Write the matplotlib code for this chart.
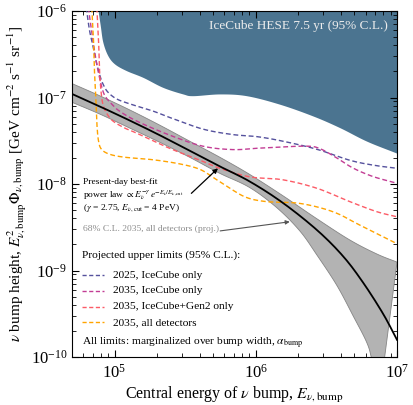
import numpy as np
import matplotlib
matplotlib.use("Agg")
import matplotlib.pyplot as plt
from matplotlib.ticker import LogLocator, NullFormatter
from matplotlib.patches import FancyArrowPatch

plt.rcParams['font.family'] = ['Liberation Serif', 'DejaVu Serif']
plt.rcParams['mathtext.fontset'] = 'stix'

# --- IceCube HESE 7.5 yr excluded region (lower boundary) ---
hese_E = [7.45e4, 7.92e4, 8.26e4, 8.95e4, 1.0e5, 1.21e5, 1.59e5, 2.20e5, 3.05e5,
          3.59e5, 5.56e5, 8.59e5, 1.47e6, 2.54e6, 3.94e6, 6.10e6, 1.0e7]
hese_phi = [1.35e-6, 6.87e-7, 4.39e-7, 3.07e-7, 2.45e-7, 2.05e-7, 1.71e-7, 1.31e-7, 1.10e-7,
            1.05e-7, 1.10e-7, 1.05e-7, 8.39e-8, 6.12e-8, 4.48e-8, 3.13e-8, 2.27e-8]

# --- projected upper limits (95% C.L.) ---
ic2025_E = [6.22e4, 6.36e4, 6.65e4, 7.02e4, 7.33e4, 7.63e4, 7.96e4, 8.26e4, 8.91e4, 1.03e5,
            1.28e5, 1.86e5, 2.45e5, 4.21e5, 6.87e5, 1.02e6, 1.55e6, 2.71e6, 4.64e6, 6.98e6, 1.0e7]
ic2025_phi = [1.34e-6, 1.0e-6, 6.0e-7, 4.01e-7, 2.83e-7, 2.16e-7, 1.70e-7, 1.45e-7, 1.17e-7, 9.67e-8,
              8.45e-8, 7.0e-8, 5.89e-8, 4.32e-8, 3.73e-8, 3.53e-8, 3.13e-8, 2.52e-8, 1.88e-8, 1.64e-8, 1.52e-8]

ic2035_E = [6.44e4, 6.58e4, 6.87e4, 7.21e4, 7.52e4, 7.83e4, 8.26e4, 8.73e4, 9.68e4, 1.08e5, 1.43e5,
            2.45e5, 4.21e5, 6.87e5, 1.02e6, 1.48e6, 2.30e6, 2.84e6, 3.75e6, 4.88e6, 6.76e6, 1.0e7]
ic2035_phi = [1.34e-6, 1.0e-6, 6.0e-7, 3.51e-7, 2.34e-7, 1.70e-7, 1.20e-7, 9.93e-8, 8.22e-8, 7.0e-8, 5.36e-8,
              3.68e-8, 2.74e-8, 2.50e-8, 2.59e-8, 2.67e-8, 2.74e-8, 2.57e-8, 2.0e-8, 1.53e-8, 1.22e-8, 1.02e-8]

gen2_E = [7.45e4, 7.52e4, 7.71e4, 7.83e4, 8.02e4, 8.26e4, 8.77e4, 9.73e4, 1.18e5, 1.43e5,
          2.45e5, 4.21e5, 5.56e5, 9.06e5, 1.55e6, 2.71e6, 4.64e6, 7.21e6, 1.0e7]
gen2_phi = [1.34e-6, 1.0e-6, 4.59e-7, 2.05e-7, 1.20e-7, 8.45e-8, 6.64e-8, 5.36e-8, 4.44e-8, 3.88e-8,
            2.59e-8, 1.83e-8, 1.52e-8, 1.21e-8, 1.12e-8, 8.93e-9, 6.25e-9, 4.78e-9, 4.18e-9]

alldet_E = [6.87e4, 6.92e4, 7.10e4, 7.21e4, 7.39e4, 7.52e4, 7.71e4, 8.09e4, 9.22e4, 1.18e5, 1.86e5,
            2.89e5, 4.01e5, 5.12e5, 6.55e5, 8.63e5, 1.20e6, 2.05e6, 3.52e6, 5.47e6, 1.0e7]
alldet_phi = [1.34e-6, 1.0e-6, 4.59e-7, 2.05e-7, 9.16e-8, 4.69e-8, 3.13e-8, 2.52e-8, 2.21e-8, 2.04e-8, 1.91e-8,
              1.71e-8, 1.48e-8, 1.16e-8, 8.93e-9, 6.97e-9, 6.25e-9, 5.97e-9, 4.78e-9, 3.34e-9, 2.04e-9]

# --- present-day best-fit power law and 68% C.L. band (2035, all detectors) ---
fit_E = [5.0e4, 7.83e4, 1.28e5, 2.08e5, 3.40e5, 5.56e5, 9.06e5, 1.55e6, 2.71e6, 4.14e6, 5.74e6, 7.96e6, 1.0e7]
fit_phi = [1.10e-7, 7.91e-8, 5.43e-8, 3.68e-8, 2.43e-8, 1.60e-8, 1.07e-8, 6.08e-9, 2.94e-9, 1.47e-9,
           7.29e-10, 3.17e-10, 1.58e-10]

band_hi_E = [5.0e4, 7.83e4, 1.28e5, 2.08e5, 3.40e5, 5.56e5, 9.06e5, 1.55e6, 2.71e6, 4.64e6, 7.21e6, 1.0e7]
band_hi_phi = [1.45e-7, 1.05e-7, 7.19e-8, 4.81e-8, 3.13e-8, 2.04e-8, 1.29e-8, 7.35e-9, 3.96e-9, 2.25e-9,
               1.55e-9, 1.25e-9]
band_lo_E = [5.0e4, 7.83e4, 1.28e5, 2.08e5, 3.40e5, 5.56e5, 9.06e5, 1.41e6, 2.05e6, 2.71e6, 3.75e6,
             4.88e6, 6.12e6, 6.65e6, 7.57e6]
band_lo_phi = [8.81e-8, 6.46e-8, 4.44e-8, 3.05e-8, 2.04e-8, 1.33e-8, 9.10e-9, 5.32e-9, 2.87e-9, 1.51e-9,
               6.73e-10, 3.01e-10, 1.46e-10, 9.2e-11, 3.8e-11]

limit_labels = ['2025, IceCube only', '2035, IceCube only', '2035, IceCube+Gen2 only', '2035, all detectors']
limit_colors = ['#55519d', '#c23d94', '#fc5b66', '#ffa400']


def smooth(E, phi, n=12):
    """Catmull-Rom through the read points, done in log-log space (drawing only)."""
    p = np.column_stack([np.log10(E), np.log10(phi)])
    p = np.vstack([2 * p[0] - p[1], p, 2 * p[-1] - p[-2]])
    out = []
    for i in range(1, len(p) - 2):
        p0, p1, p2, p3 = p[i - 1], p[i], p[i + 1], p[i + 2]
        t = np.linspace(0, 1, n, endpoint=False)[:, None]
        seg = 0.5 * ((2 * p1) + (-p0 + p2) * t + (2 * p0 - 5 * p1 + 4 * p2 - p3) * t ** 2
                     + (-p0 + 3 * p1 - 3 * p2 + p3) * t ** 3)
        out.append(seg)
    out.append(p[-2][None, :])
    out = np.vstack(out)
    return 10 ** out[:, 0], 10 ** out[:, 1]


fig = plt.figure(figsize=(4.13, 4.05), dpi=100)
ax = fig.add_axes([0.1743, 0.1185, 0.787, 0.8543])

# excluded region
hx, hy = smooth(hese_E, hese_phi)
ax.fill_between(hx, hy, 1e-5, color='#4b7490', lw=0, zorder=1)

# 68% band + best fit
ux, uy = smooth(band_hi_E, band_hi_phi)
lx, ly = smooth(band_lo_E, band_lo_phi)
ax.fill(np.concatenate([ux, lx[::-1]]), np.concatenate([uy, ly[::-1]]),
        facecolor='#b3b3b3', edgecolor='#858585', lw=0.6, zorder=2)
fx, fy = smooth(fit_E, fit_phi)
ax.plot(fx, fy, color='black', lw=1.3, zorder=4)

# projected limits
curves = [(ic2025_E, ic2025_phi), (ic2035_E, ic2035_phi), (gen2_E, gen2_phi), (alldet_E, alldet_phi)]
for (E, phi), c in zip(curves, limit_colors):
    sx, sy = smooth(E, phi)
    ax.plot(sx, sy, color=c, lw=1.0, dashes=(3.5, 2.0), zorder=3)

ax.set_xscale('log')
ax.set_yscale('log')
ax.set_xlim(5e4, 1e7)
ax.set_ylim(1e-10, 1e-6)

ax.xaxis.set_minor_locator(LogLocator(base=10, subs=np.arange(2, 10)))
ax.yaxis.set_minor_locator(LogLocator(base=10, subs=np.arange(2, 10)))
ax.xaxis.set_minor_formatter(NullFormatter())
ax.yaxis.set_minor_formatter(NullFormatter())
ax.tick_params(which='both', direction='in', top=True, right=True, labelsize=12)
ax.tick_params(which='major', length=5, width=0.8)
ax.tick_params(which='minor', length=3, width=0.6, labelbottom=False, labelleft=False)
ax.tick_params(axis='x', pad=5)

ax.set_xlabel(r'Central energy of $\nu$ bump, $E_{\nu,\mathrm{bump}}$', fontsize=11.5, labelpad=2)
ax.set_ylabel(r'$\nu$ bump height, $E^2_{\nu,\mathrm{bump}}\Phi_{\nu,\mathrm{bump}}$ '
              r'[GeV cm$^{-2}$ s$^{-1}$ sr$^{-1}$]', fontsize=11, labelpad=1)

ax.text(0.972, 0.957, 'IceCube HESE 7.5 yr (95% C.L.)', transform=ax.transAxes,
        ha='right', va='center', fontsize=9.5, color='#ececec', zorder=5)

# best-fit annotation
ax.text(0.034, 0.507, 'Present-day best-fit', transform=ax.transAxes, ha='left', va='center', fontsize=6.8)
ax.text(0.034, 0.468, r'power law $\propto E_\nu^{-\gamma}\, e^{-E_\nu/E_{\nu,\mathrm{cut}}}$',
        transform=ax.transAxes, ha='left', va='center', fontsize=6.8)
ax.text(0.034, 0.430, r'($\gamma$ = 2.75, $E_{\nu,\mathrm{cut}}$ = 4 PeV)', transform=ax.transAxes,
        ha='left', va='center', fontsize=6.8)
ax.add_patch(FancyArrowPatch((3.5e5, 7.8e-9), (5.4e5, 1.52e-8), arrowstyle='-|>', color='black',
                             lw=0.9, mutation_scale=7, shrinkA=0, shrinkB=0, zorder=6))

ax.text(0.034, 0.369, '68% C.L. 2035, all detectors (proj.)', transform=ax.transAxes,
        ha='left', va='center', fontsize=6.8, color='#8c8c8c')
ax.add_patch(FancyArrowPatch((5.6e5, 2.87e-9), (1.74e6, 3.66e-9), arrowstyle='-|>', color='#555555',
                             lw=0.8, mutation_scale=6, shrinkA=0, shrinkB=0, zorder=6))

# hand-made legend
ax.text(0.03, 0.295, 'Projected upper limits (95% C.L.):', transform=ax.transAxes,
        ha='left', va='center', fontsize=8.2)
for i, (lab, c) in enumerate(zip(limit_labels, limit_colors)):
    yy = 0.237 - i * 0.0457
    ax.plot([0.03, 0.097], [yy, yy], transform=ax.transAxes, color=c, lw=1.0, dashes=(3.0, 1.8))
    ax.text(0.127, yy, lab, transform=ax.transAxes, ha='left', va='center', fontsize=8.2)

ax.text(0.03, 0.040, r'All limits: marginalized over bump width, $\alpha_{\mathrm{bump}}$',
        transform=ax.transAxes, ha='left', va='center', fontsize=8.2)

fig.savefig('out.png', dpi=100)
